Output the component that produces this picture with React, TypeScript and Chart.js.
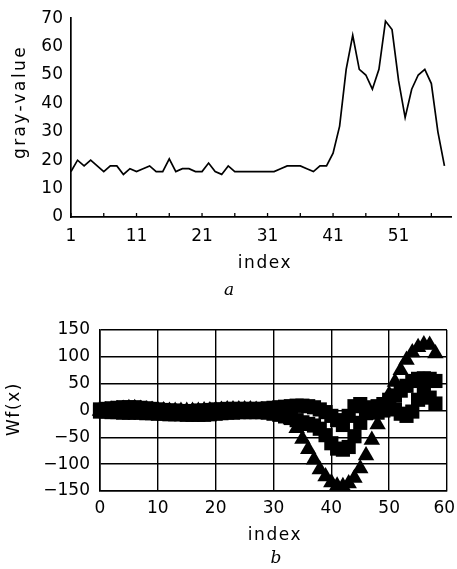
import { useEffect, useRef } from 'react';
import { Chart, registerables } from 'chart.js';

Chart.register(...registerables);

// ---------- chart a: gray-value profile ----------
const indexA = [
  1, 2, 3, 4, 5, 6, 7, 8, 9, 10, 11, 12, 13, 14, 15, 16, 17, 18, 19, 20,
  21, 22, 23, 24, 25, 26, 27, 28, 29, 30, 31, 32, 33, 34, 35, 36, 37, 38, 39, 40,
  41, 42, 43, 44, 45, 46, 47, 48, 49, 50, 51, 52, 53, 54, 55, 56, 57, 58,
];
const grayValues = [
  16, 20, 18, 20, 18, 16, 18, 18, 15, 17, 16, 17, 18, 16, 16, 20.5, 16, 17, 17, 16,
  16, 19, 16, 15, 18, 16, 16, 16, 16, 16, 16, 16, 17, 18, 18, 18, 17, 16, 18, 18,
  22.5, 32, 52, 64, 52, 50, 45, 52, 69, 66, 48, 35, 45, 50, 52, 47, 30, 18,
];
const xTickMarksA = [1, 6, 11, 16, 21, 26, 31, 36, 41, 46, 51, 56];
const xTickLabelsA = [1, 11, 21, 31, 41, 51];
const yTicksA = [0, 10, 20, 30, 40, 50, 60, 70];

// ---------- chart b: wavelet transform Wf(x) ----------
const indexB = [
  0, 1, 2, 3, 4, 5, 6, 7, 8, 9, 10, 11, 12, 13, 14, 15, 16, 17, 18, 19,
  20, 21, 22, 23, 24, 25, 26, 27, 28, 29, 30, 31, 32, 33, 34, 35, 36, 37, 38, 39,
  40, 41, 42, 43, 44, 45, 46, 47, 48, 49, 50, 51, 52, 53, 54, 55, 56, 57, 58,
];
const wfLarge = [
  -1, 0, 1, 2, 3, 4, 4, 3, 2, 1, 0, 0, -1, -1, -1, -1, -1, -1, 0, 0,
  1, 1, 2, 2, 2, 2, 2, 1, 0, -1, -2, -4, -8, -17, -33, -53, -72, -92, -110, -123,
  -134, -140, -141, -136, -126, -108, -84, -55, -26, 4, 30, 53, 75, 94, 108, 118, 123, 122, 106,
];
const wfMedium = [
  -2, -2, -3, -3, -4, -4, -4, -4, -5, -5, -6, -6, -7, -7, -7, -8, -8, -8, -8, -7,
  -6, -5, -4, -4, -3, -3, -3, -3, -3, -4, -6, -8, -11, -14, -18, -22, -25, -28, -34, -46,
  -61, -71, -73, -68, -48, -23, -5, 3, 8, 12, 20, 28, 37, 46, 55, 59, 60, 59, 55,
];
const wfSmall = [
  2, 3, 4, 5, 6, 6, 6, 5, 4, 3, 2, 1, 0, 0, -1, -1, -1, 0, 0, 1,
  2, 2, 3, 3, 3, 3, 3, 3, 3, 4, 5, 6, 7, 8, 9, 9, 8, 6, 2, -3,
  -10, -18, -27, -10, 8, 12, 6, 0, -4, 0, 4, 2, -6, -10, -2, 20, 36, 24, 13,
];
const xTicksB = [0, 10, 20, 30, 40, 50, 60];
const yTicksB = [-150, -100, -50, 0, 50, 100, 150];

const FONT = { family: 'DejaVu Sans', size: 17 };
const TITLE_FONT = '17px "DejaVu Sans"';
const CAPTION_FONT = 'italic 17px "DejaVu Serif"';

type TextItem = { text: string; x: number; y: number; font: string; spacing: number; rotate?: boolean };

const textPlugin = (items: TextItem[]) => ({
  id: 'freeTexts',
  afterDraw(chart: any) {
    const ctx = chart.ctx;
    for (const it of items) {
      ctx.save();
      ctx.font = it.font;
      ctx.fillStyle = '#000';
      ctx.textAlign = 'center';
      ctx.textBaseline = 'middle';
      (ctx as any).letterSpacing = it.spacing + 'px';
      ctx.translate(it.x, it.y);
      if (it.rotate) ctx.rotate(-Math.PI / 2);
      ctx.fillText(it.text, 0, 0);
      ctx.restore();
    }
  },
});

const innerTicks = {
  id: 'innerTicks',
  afterDraw(chart: any) {
    const xs = chart.scales.x;
    const { ctx, chartArea } = chart;
    ctx.save();
    ctx.strokeStyle = '#000';
    ctx.lineWidth = 1.3;
    for (const v of xTickMarksA) {
      const px = xs.getPixelForValue(v);
      ctx.beginPath();
      ctx.moveTo(px, chartArea.bottom);
      ctx.lineTo(px, chartArea.bottom - 4);
      ctx.stroke();
    }
    ctx.restore();
  },
};

function fmtB(v: number) {
  if (v < 0) return '\u2212' + Math.abs(v);
  return String(v);
}

export default function App() {
  const refA = useRef<HTMLCanvasElement>(null);
  const refB = useRef<HTMLCanvasElement>(null);

  useEffect(() => {
    const chartA = new Chart(refA.current!, {
      type: 'line',
      data: {
        datasets: [
          {
            data: indexA.map((x, i) => ({ x, y: grayValues[i] })),
            borderColor: '#000',
            borderWidth: 1.7,
            pointRadius: 0,
            tension: 0,
            fill: false,
          },
        ],
      },
      options: {
        animation: false,
        responsive: false,
        maintainAspectRatio: false,
        layout: { padding: { left: 0, right: 6, top: 18, bottom: 0 } },
        plugins: {
          legend: { display: false },
          tooltip: { enabled: false },
          title: { display: false },
        },
        scales: {
          x: {
            type: 'linear',
            min: 1,
            max: 59,
            afterBuildTicks: (s: any) => {
              s.ticks = xTickMarksA.map((v) => ({ value: v }));
            },
            afterFit: (s: any) => {
              s.height = 83;
              s.paddingLeft = 0;
              s.paddingRight = 0;
            },
            ticks: {
              autoSkip: false,
              maxRotation: 0,
              padding: 9,
              font: FONT,
              color: '#000',
              callback: (v: any) => (xTickLabelsA.includes(Number(v)) ? String(v) : ''),
            },
            grid: { display: false, drawTicks: false },
            border: { display: true, color: '#000', width: 1.7 },
            title: { display: false },
          },
          y: {
            type: 'linear',
            min: 0,
            max: 70,
            afterBuildTicks: (s: any) => {
              s.ticks = yTicksA.map((v) => ({ value: v }));
            },
            afterFit: (s: any) => {
              s.width = 71;
            },
            ticks: { padding: 8, font: FONT, color: '#000' },
            grid: { display: false, drawTicks: false },
            border: { display: true, color: '#000', width: 1.7 },
            title: { display: false },
          },
        },
      },
      plugins: [
        innerTicks,
        textPlugin([
          { text: 'gray-value', x: 21, y: 102, font: TITLE_FONT, spacing: 2.4, rotate: true },
          { text: 'index', x: 265, y: 264, font: TITLE_FONT, spacing: 1.6 },
          { text: 'a', x: 229, y: 291, font: CAPTION_FONT, spacing: 0 },
        ]),
      ],
    } as any);

    const chartB = new Chart(refB.current!, {
      type: 'scatter',
      data: {
        datasets: [
          {
            data: indexB.map((x, i) => ({ x, y: wfLarge[i] })),
            pointStyle: 'triangle',
            pointRadius: 9.5,
            backgroundColor: '#000',
            borderColor: '#000',
            borderWidth: 0,
            clip: false,
          },
          {
            data: indexB.map((x, i) => ({ x, y: wfMedium[i] })),
            pointStyle: 'rect',
            pointRadius: 10,
            backgroundColor: '#000',
            borderColor: '#000',
            borderWidth: 0,
            clip: false,
          },
          {
            data: indexB.map((x, i) => ({ x, y: wfSmall[i] })),
            pointStyle: 'rect',
            pointRadius: 10,
            backgroundColor: '#000',
            borderColor: '#000',
            borderWidth: 0,
            clip: false,
          },
        ],
      },
      options: {
        animation: false,
        responsive: false,
        maintainAspectRatio: false,
        layout: { padding: { left: 0, right: 8, top: 30, bottom: 0 } },
        plugins: {
          legend: { display: false },
          tooltip: { enabled: false },
          title: { display: false },
        },
        scales: {
          x: {
            type: 'linear',
            min: 0,
            max: 60,
            afterBuildTicks: (s: any) => {
              s.ticks = xTicksB.map((v) => ({ value: v }));
            },
            afterFit: (s: any) => {
              s.height = 78;
              s.paddingLeft = 0;
              s.paddingRight = 0;
            },
            ticks: {
              autoSkip: false,
              maxRotation: 0,
              padding: 7,
              font: FONT,
              color: '#000',
              callback: (v: any) => (Number(v) === 60 ? '60 ' : String(v)),
            },
            grid: { display: true, drawTicks: false, color: '#000', lineWidth: 1.4 },
            border: { display: true, color: '#000', width: 1.6 },
            title: { display: false },
          },
          y: {
            type: 'linear',
            min: -150,
            max: 150,
            afterBuildTicks: (s: any) => {
              s.ticks = yTicksB.map((v) => ({ value: v }));
            },
            afterFit: (s: any) => {
              s.width = 100;
            },
            ticks: {
              padding: 10,
              font: FONT,
              color: '#000',
              callback: (v: any) => fmtB(Number(v)),
            },
            grid: { display: true, drawTicks: false, color: '#000', lineWidth: 1.4 },
            border: { display: true, color: '#000', width: 1.6 },
            title: { display: false },
          },
        },
      },
      plugins: [
        textPlugin([
          { text: 'Wf(x)', x: 15, y: 109, font: TITLE_FONT, spacing: 1.6, rotate: true },
          { text: 'index', x: 275, y: 236, font: TITLE_FONT, spacing: 1.6 },
          { text: 'b', x: 276, y: 259, font: CAPTION_FONT, spacing: 0 },
        ]),
      ],
    } as any);

    return () => {
      chartA.destroy();
      chartB.destroy();
    };
  }, []);

  return (
    <div
      style={{
        position: 'fixed',
        left: 0,
        top: 0,
        width: 457,
        height: 569,
        background: '#fff',
        overflow: 'hidden',
      }}
    >
      <canvas ref={refA} width={457} height={300} style={{ display: 'block' }} />
      <canvas ref={refB} width={457} height={269} style={{ display: 'block' }} />
    </div>
  );
}
